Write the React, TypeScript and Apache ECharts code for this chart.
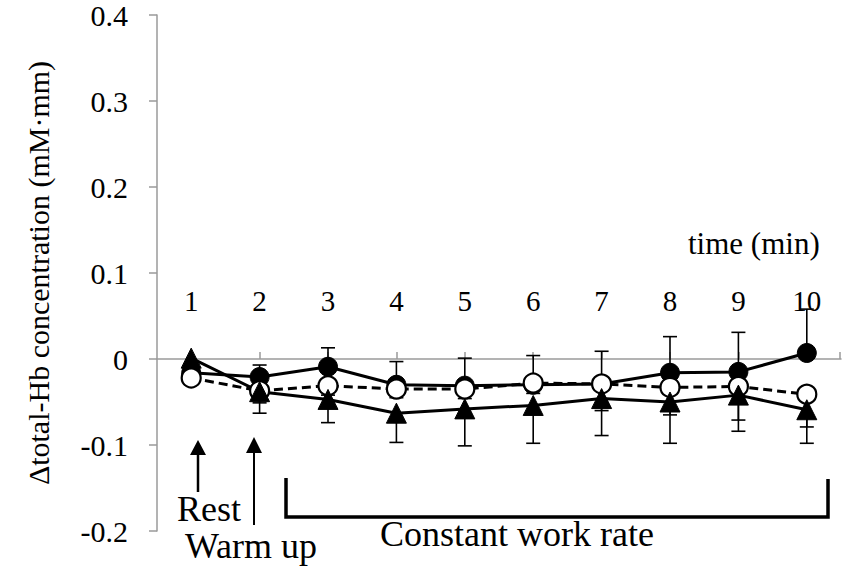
import React, { useEffect, useRef } from "react";
import * as echarts from "echarts";

const categories = ["1", "2", "3", "4", "5", "6", "7", "8", "9", "10"];
const filledMean = [-0.016, -0.021, -0.009, -0.030, -0.031, -0.030, -0.029, -0.016, -0.015, 0.007];
const filledHigh = [-0.008, -0.007, 0.013, -0.003, 0.001, 0.004, 0.009, 0.026, 0.031, 0.058];
const openMean = [-0.022, -0.037, -0.031, -0.035, -0.035, -0.028, -0.029, -0.033, -0.032, -0.041];
const openLow = [-0.030, -0.051, -0.042, -0.045, -0.046, -0.040, -0.060, -0.065, -0.071, -0.079];
const triMean = [0.001, -0.038, -0.047, -0.063, -0.058, -0.054, -0.046, -0.050, -0.042, -0.059];
const triLow = [-0.010, -0.063, -0.074, -0.097, -0.101, -0.098, -0.089, -0.098, -0.084, -0.098];

const yTicks = { min: -0.2, max: 0.4, interval: 0.1 };
const yTitle = "Δtotal-Hb concentration (mM·mm)";
const xTitle = "time (min)";

const FONT = "Liberation Serif";

function errSeries(mean: number[], err: number[], z: number) {
  return {
    type: "custom",
    z,
    silent: true,
    data: mean.map((m, i) => [i, m, err[i]]),
    encode: { x: 0, y: [1, 2] },
    renderItem: (params: any, api: any) => {
      const i = api.value(0);
      const p1 = api.coord([i, api.value(1)]);
      const p2 = api.coord([i, api.value(2)]);
      const capW = 7;
      const style = { stroke: "#000", lineWidth: 1.6 };
      return {
        type: "group",
        children: [
          { type: "line", shape: { x1: p1[0], y1: p1[1], x2: p2[0], y2: p2[1] }, style },
          { type: "line", shape: { x1: p2[0] - capW, y1: p2[1], x2: p2[0] + capW, y2: p2[1] }, style },
        ],
      };
    },
  };
}

export default function App() {
  const ref = useRef<HTMLDivElement>(null);
  useEffect(() => {
    if (!ref.current) return;
    const chart = echarts.init(ref.current, undefined, { renderer: "svg" });
    const annStyle = { fontSize: 36, fontFamily: FONT, fill: "#000", align: "left", verticalAlign: "middle" };
    chart.setOption({
      animation: false,
      backgroundColor: "#fff",
      textStyle: { fontFamily: FONT },
      grid: { left: 157, right: 5, top: 15, bottom: 39, containLabel: false },
      xAxis: {
        type: "category",
        data: categories,
        boundaryGap: true,
        axisLine: { onZero: true, lineStyle: { color: "#9a9a9a", width: 1.5 } },
        axisTick: { show: true, inside: true, alignWithLabel: true, length: 7, lineStyle: { color: "#9a9a9a", width: 1.5 } },
        axisLabel: { inside: true, margin: 230, verticalAlign: "middle", color: "#000", fontSize: 29, fontFamily: FONT },
        splitLine: { show: false },
      },
      yAxis: {
        type: "value",
        min: yTicks.min,
        max: yTicks.max,
        interval: yTicks.interval,
        axisLine: { show: true, onZero: false, lineStyle: { color: "#9a9a9a", width: 1.5 } },
        axisTick: { show: true, inside: false, length: 8, lineStyle: { color: "#9a9a9a", width: 1.5 } },
        axisLabel: {
          margin: 29,
          color: "#000",
          fontSize: 30,
          fontFamily: FONT,
          formatter: (v: number) => (Math.abs(v) < 1e-9 ? "0" : v.toFixed(1)),
        },
        splitLine: { show: false },
      },
      series: [
        errSeries(filledMean, filledHigh, 1),
        errSeries(openMean, openLow, 1),
        errSeries(triMean, triLow, 1),
        {
          type: "line",
          data: filledMean,
          z: 3,
          symbol: "circle",
          symbolSize: 19,
          lineStyle: { color: "#000", width: 3 },
          itemStyle: { color: "#000", borderColor: "#000", borderWidth: 1 },
        },
        {
          type: "line",
          data: openMean,
          z: 3,
          symbol: "circle",
          symbolSize: 19,
          lineStyle: { color: "#000", width: 3, type: [9, 5] },
          itemStyle: { color: "#fff", borderColor: "#000", borderWidth: 2.2 },
        },
        {
          type: "line",
          data: triMean,
          z: 3,
          symbol: "triangle",
          symbolSize: 20,
          lineStyle: { color: "#000", width: 3 },
          itemStyle: { color: "#000", borderColor: "#000", borderWidth: 1 },
        },
      ],
      graphic: [
        {
          type: "text",
          x: 38,
          y: 273,
          rotation: Math.PI / 2,
          style: { text: yTitle, fontSize: 30, fontFamily: FONT, fill: "#000", align: "center", verticalAlign: "middle" },
        },
        {
          type: "text",
          x: 688,
          y: 243,
          style: { text: xTitle, fontSize: 31, fontFamily: FONT, fill: "#000", align: "left", verticalAlign: "middle" },
        },
        { type: "line", shape: { x1: 840, y1: 352, x2: 840, y2: 359 }, style: { stroke: "#9a9a9a", lineWidth: 1.5 } },
        // Rest arrow
        { type: "line", shape: { x1: 198, y1: 492, x2: 198, y2: 452 }, style: { stroke: "#000", lineWidth: 2.5 } },
        { type: "polygon", shape: { points: [[190, 455], [206, 455], [198, 440]] }, style: { fill: "#000" } },
        // Warm up arrow
        { type: "line", shape: { x1: 254, y1: 525, x2: 254, y2: 450 }, style: { stroke: "#000", lineWidth: 2 } },
        { type: "polygon", shape: { points: [[246, 453], [262, 453], [254, 437]] }, style: { fill: "#000" } },
        // bracket
        {
          type: "polyline",
          shape: { points: [[286, 478], [286, 517], [828, 517], [828, 479]] },
          style: { stroke: "#000", lineWidth: 3.5, fill: "none" },
        },
        { type: "text", x: 177, y: 509, style: { text: "Rest", ...annStyle } },
        { type: "text", x: 185, y: 546, style: { text: "Warm up", ...annStyle } },
        { type: "text", x: 380, y: 534, style: { text: "Constant work rate", ...annStyle } },
      ],
    });
    return () => chart.dispose();
  }, []);
  return <div ref={ref} style={{ position: "fixed", left: 0, top: 0, width: 846, height: 570 }} />;
}
